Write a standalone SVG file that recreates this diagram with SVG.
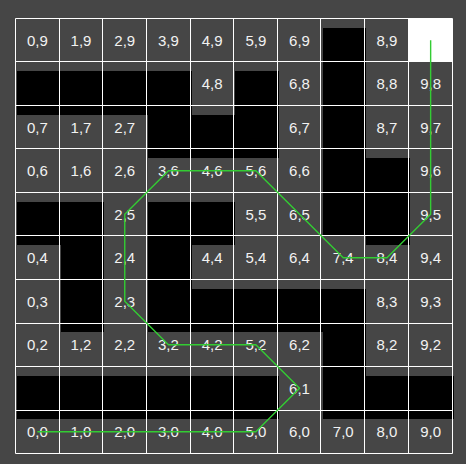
<svg xmlns="http://www.w3.org/2000/svg" width="466" height="464" viewBox="0 0 466 464">
<style>
.blk{fill:#000;shape-rendering:crispEdges}
.bg{fill:#464646;shape-rendering:crispEdges}
.goal{fill:#fff;shape-rendering:crispEdges}
.lbl{font-family:"Liberation Sans",Arial,sans-serif;font-size:15px;fill:#f2f2f2;text-anchor:middle}
.grid{stroke:#fff;stroke-width:1;fill:none}
.route{stroke:#33cc33;stroke-width:1.4;fill:none;stroke-linejoin:round}
</style>
<rect class="bg" x="0" y="0" width="466" height="464"/>
<g id="cells">
<g id="cell-0-9"><text class="lbl" x="37.35" y="45.5">0,9</text></g>
<g id="cell-1-9"><text class="lbl" x="81.05" y="45.5">1,9</text></g>
<g id="cell-2-9"><text class="lbl" x="124.75" y="45.5">2,9</text></g>
<g id="cell-3-9"><text class="lbl" x="168.45" y="45.5">3,9</text></g>
<g id="cell-4-9"><text class="lbl" x="212.15" y="45.5">4,9</text></g>
<g id="cell-5-9"><text class="lbl" x="255.85" y="45.5">5,9</text></g>
<g id="cell-6-9"><text class="lbl" x="299.55" y="45.5">6,9</text></g>
<g id="cell-7-9"><rect class="blk" x="322.7" y="27.7" width="43.7" height="43.5"/></g>
<g id="cell-8-9"><text class="lbl" x="386.95" y="45.5">8,9</text></g>
<g id="cell-9-9"><rect class="goal" x="408.5" y="18.5" width="44" height="43"/></g>

<g id="cell-0-8"><rect class="blk" x="16.8" y="71.2" width="43.7" height="43.5"/></g>
<g id="cell-1-8"><rect class="blk" x="60.5" y="71.2" width="43.7" height="43.5"/></g>
<g id="cell-2-8"><rect class="blk" x="104.2" y="71.2" width="43.7" height="43.5"/></g>
<g id="cell-3-8"><rect class="blk" x="147.9" y="71.2" width="43.7" height="43.5"/></g>
<g id="cell-4-8"><text class="lbl" x="212.15" y="89">4,8</text></g>
<g id="cell-5-8"><rect class="blk" x="235.3" y="71.2" width="43.7" height="43.5"/></g>
<g id="cell-6-8"><text class="lbl" x="299.55" y="89">6,8</text></g>
<g id="cell-7-8"><rect class="blk" x="322.7" y="71.2" width="43.7" height="43.5"/></g>
<g id="cell-8-8"><text class="lbl" x="386.95" y="89">8,8</text></g>
<g id="cell-9-8"><text class="lbl" x="430.65" y="89">9,8</text></g>

<g id="cell-0-7"><text class="lbl" x="37.35" y="132.5">0,7</text></g>
<g id="cell-1-7"><text class="lbl" x="81.05" y="132.5">1,7</text></g>
<g id="cell-2-7"><text class="lbl" x="124.75" y="132.5">2,7</text></g>
<g id="cell-3-7"><rect class="blk" x="147.9" y="114.7" width="43.7" height="43.5"/></g>
<g id="cell-4-7"><rect class="blk" x="191.6" y="114.7" width="43.7" height="43.5"/></g>
<g id="cell-5-7"><rect class="blk" x="235.3" y="114.7" width="43.7" height="43.5"/></g>
<g id="cell-6-7"><text class="lbl" x="299.55" y="132.5">6,7</text></g>
<g id="cell-7-7"><rect class="blk" x="322.7" y="114.7" width="43.7" height="43.5"/></g>
<g id="cell-8-7"><text class="lbl" x="386.95" y="132.5">8,7</text></g>
<g id="cell-9-7"><text class="lbl" x="430.65" y="132.5">9,7</text></g>

<g id="cell-0-6"><text class="lbl" x="37.35" y="176">0,6</text></g>
<g id="cell-1-6"><text class="lbl" x="81.05" y="176">1,6</text></g>
<g id="cell-2-6"><text class="lbl" x="124.75" y="176">2,6</text></g>
<g id="cell-3-6"><text class="lbl" x="168.45" y="176">3,6</text></g>
<g id="cell-4-6"><text class="lbl" x="212.15" y="176">4,6</text></g>
<g id="cell-5-6"><text class="lbl" x="255.85" y="176">5,6</text></g>
<g id="cell-6-6"><text class="lbl" x="299.55" y="176">6,6</text></g>
<g id="cell-7-6"><rect class="blk" x="322.7" y="158.2" width="43.7" height="43.5"/></g>
<g id="cell-8-6"><rect class="blk" x="366.4" y="158.2" width="43.7" height="43.5"/></g>
<g id="cell-9-6"><text class="lbl" x="430.65" y="176">9,6</text></g>

<g id="cell-0-5"><rect class="blk" x="16.8" y="201.7" width="43.7" height="43.5"/></g>
<g id="cell-1-5"><rect class="blk" x="60.5" y="201.7" width="43.7" height="43.5"/></g>
<g id="cell-2-5"><text class="lbl" x="124.75" y="219.5">2,5</text></g>
<g id="cell-3-5"><rect class="blk" x="147.9" y="201.7" width="43.7" height="43.5"/></g>
<g id="cell-4-5"><rect class="blk" x="191.6" y="201.7" width="43.7" height="43.5"/></g>
<g id="cell-5-5"><text class="lbl" x="255.85" y="219.5">5,5</text></g>
<g id="cell-6-5"><text class="lbl" x="299.55" y="219.5">6,5</text></g>
<g id="cell-7-5"><rect class="blk" x="322.7" y="201.7" width="43.7" height="43.5"/></g>
<g id="cell-8-5"><rect class="blk" x="366.4" y="201.7" width="43.7" height="43.5"/></g>
<g id="cell-9-5"><text class="lbl" x="430.65" y="219.5">9,5</text></g>

<g id="cell-0-4"><text class="lbl" x="37.35" y="263">0,4</text></g>
<g id="cell-1-4"><rect class="blk" x="60.5" y="245.2" width="43.7" height="43.5"/></g>
<g id="cell-2-4"><text class="lbl" x="124.75" y="263">2,4</text></g>
<g id="cell-3-4"><rect class="blk" x="147.9" y="245.2" width="43.7" height="43.5"/></g>
<g id="cell-4-4"><text class="lbl" x="212.15" y="263">4,4</text></g>
<g id="cell-5-4"><text class="lbl" x="255.85" y="263">5,4</text></g>
<g id="cell-6-4"><text class="lbl" x="299.55" y="263">6,4</text></g>
<g id="cell-7-4"><rect class="bg" x="322.7" y="236" width="43.7" height="52.7"/><text class="lbl" x="343.25" y="263">7,4</text></g>
<g id="cell-8-4"><text class="lbl" x="386.95" y="263">8,4</text></g>
<g id="cell-9-4"><text class="lbl" x="430.65" y="263">9,4</text></g>

<g id="cell-0-3"><text class="lbl" x="37.35" y="306.5">0,3</text></g>
<g id="cell-1-3"><rect class="blk" x="60.5" y="288.7" width="43.7" height="43.5"/></g>
<g id="cell-2-3"><text class="lbl" x="124.75" y="306.5">2,3</text></g>
<g id="cell-3-3"><rect class="blk" x="147.9" y="288.7" width="43.7" height="43.5"/></g>
<g id="cell-4-3"><rect class="blk" x="191.6" y="288.7" width="43.7" height="43.5"/></g>
<g id="cell-5-3"><rect class="blk" x="235.3" y="288.7" width="43.7" height="43.5"/></g>
<g id="cell-6-3"><rect class="blk" x="279" y="288.7" width="43.7" height="43.5"/></g>
<g id="cell-7-3"><rect class="blk" x="322.7" y="288.7" width="43.7" height="43.5"/></g>
<g id="cell-8-3"><text class="lbl" x="386.95" y="306.5">8,3</text></g>
<g id="cell-9-3"><text class="lbl" x="430.65" y="306.5">9,3</text></g>

<g id="cell-0-2"><text class="lbl" x="37.35" y="350">0,2</text></g>
<g id="cell-1-2"><text class="lbl" x="81.05" y="350">1,2</text></g>
<g id="cell-2-2"><text class="lbl" x="124.75" y="350">2,2</text></g>
<g id="cell-3-2"><text class="lbl" x="168.45" y="350">3,2</text></g>
<g id="cell-4-2"><text class="lbl" x="212.15" y="350">4,2</text></g>
<g id="cell-5-2"><text class="lbl" x="255.85" y="350">5,2</text></g>
<g id="cell-6-2"><text class="lbl" x="299.55" y="350">6,2</text></g>
<g id="cell-7-2"><rect class="blk" x="322.7" y="332.2" width="43.7" height="43.5"/></g>
<g id="cell-8-2"><text class="lbl" x="386.95" y="350">8,2</text></g>
<g id="cell-9-2"><text class="lbl" x="430.65" y="350">9,2</text></g>

<g id="cell-0-1"><rect class="blk" x="16.8" y="375.7" width="43.7" height="43.5"/></g>
<g id="cell-1-1"><rect class="blk" x="60.5" y="375.7" width="43.7" height="43.5"/></g>
<g id="cell-2-1"><rect class="blk" x="104.2" y="375.7" width="43.7" height="43.5"/></g>
<g id="cell-3-1"><rect class="blk" x="147.9" y="375.7" width="43.7" height="43.5"/></g>
<g id="cell-4-1"><rect class="blk" x="191.6" y="375.7" width="43.7" height="43.5"/></g>
<g id="cell-5-1"><rect class="blk" x="235.3" y="375.7" width="43.7" height="43.5"/></g>
<g id="cell-6-1"><text class="lbl" x="299.55" y="393.5">6,1</text></g>
<g id="cell-7-1"><rect class="blk" x="322.7" y="375.7" width="43.7" height="43.5"/></g>
<g id="cell-8-1"><rect class="blk" x="366.4" y="375.7" width="43.7" height="43.5"/></g>
<g id="cell-9-1"><rect class="blk" x="410.1" y="375.7" width="43.7" height="43.5"/></g>

<g id="cell-0-0"><text class="lbl" x="37.35" y="437">0,0</text></g>
<g id="cell-1-0"><text class="lbl" x="81.05" y="437">1,0</text></g>
<g id="cell-2-0"><text class="lbl" x="124.75" y="437">2,0</text></g>
<g id="cell-3-0"><text class="lbl" x="168.45" y="437">3,0</text></g>
<g id="cell-4-0"><text class="lbl" x="212.15" y="437">4,0</text></g>
<g id="cell-5-0"><text class="lbl" x="255.85" y="437">5,0</text></g>
<g id="cell-6-0"><text class="lbl" x="299.55" y="437">6,0</text></g>
<g id="cell-7-0"><text class="lbl" x="343.25" y="437">7,0</text></g>
<g id="cell-8-0"><text class="lbl" x="386.95" y="437">8,0</text></g>
<g id="cell-9-0"><text class="lbl" x="430.65" y="437">9,0</text></g>
</g>
<g id="grid">
<path class="grid" d="M15.5 18.5V453.5M59.5 18.5V453.5M102.5 18.5V453.5M146.5 18.5V453.5M190.5 18.5V453.5M233.5 18.5V453.5M277.5 18.5V453.5M320.5 18.5V453.5M364.5 18.5V453.5M408.5 18.5V453.5M452.5 18.5V453.5M15.5 18.5H452.5M15.5 61.5H452.5M15.5 105.5H452.5M15.5 148.5H452.5M15.5 192.5H452.5M15.5 235.5H452.5M15.5 279.5H452.5M15.5 323.5H452.5M15.5 366.5H452.5M15.5 410.5H452.5M15.5 453.5H452.5"/>
</g>
<g id="connectors">
<polyline class="route" points="430.65,40.25 430.65,214.25 386.95,257.75 343.25,257.75 299.55,214.25 255.85,170.75 168.45,170.75 124.75,214.25 124.75,301.25 168.45,344.75 255.85,344.75 299.55,388.25 255.85,431.75 37.35,431.75"/>
</g>
</svg>
